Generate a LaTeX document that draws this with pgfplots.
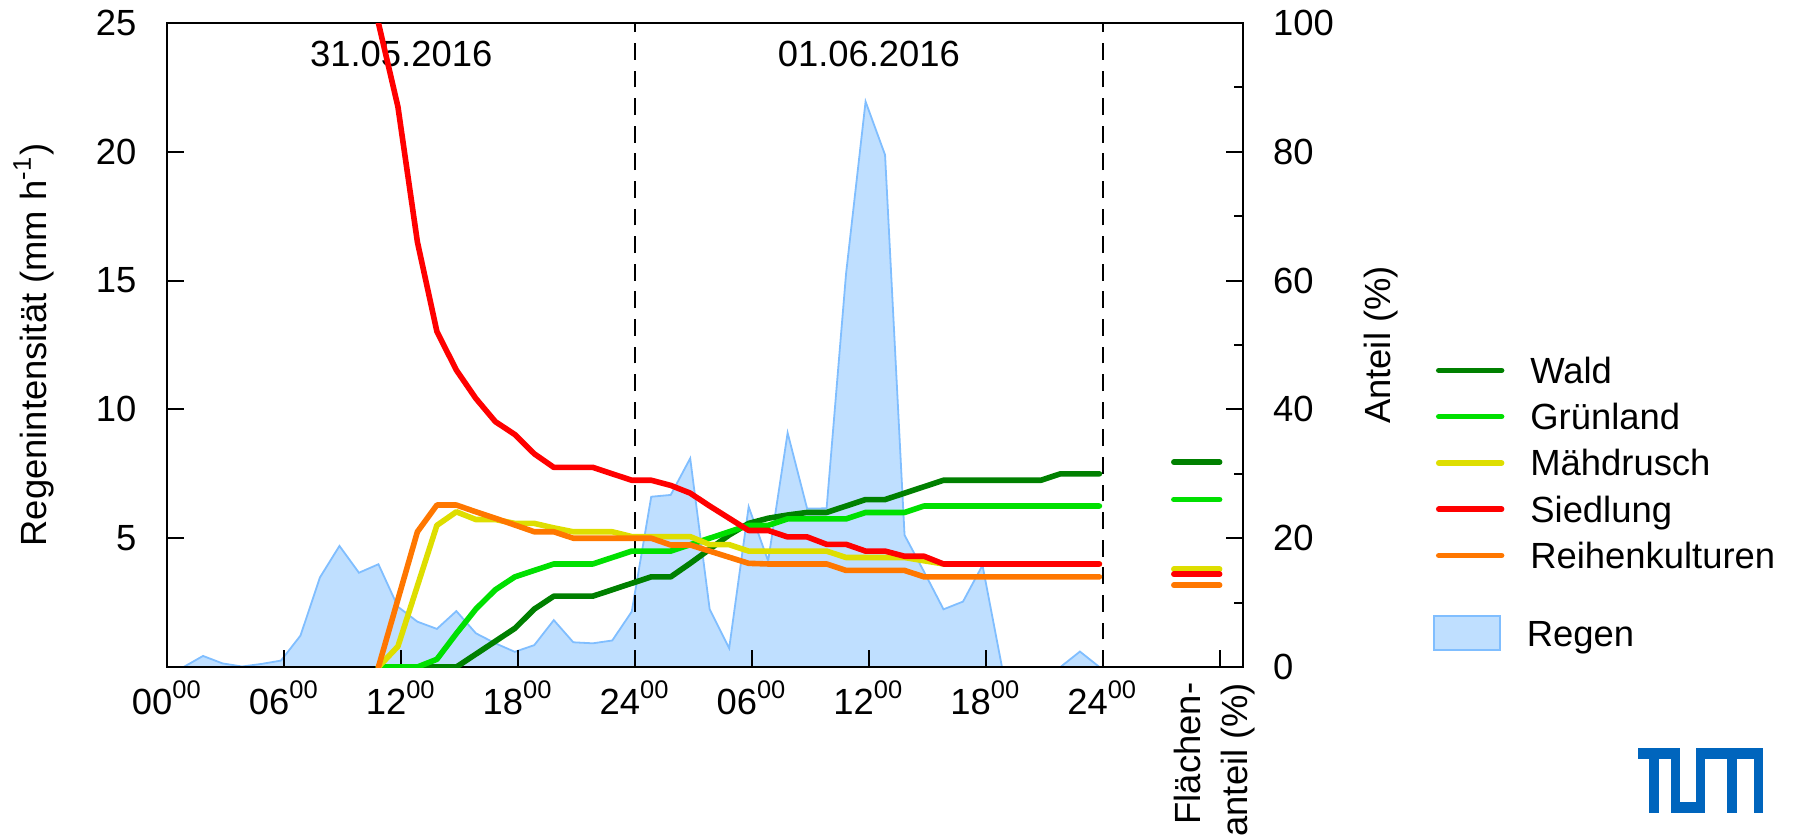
\documentclass[border=0pt]{standalone}
\usepackage{fontspec}
\setmainfont{Liberation Sans}
\usepackage{pgfplots}
\pgfplotsset{compat=1.18}
\definecolor{wald}{RGB}{0,128,0}
\definecolor{gruen}{RGB}{0,224,0}
\definecolor{maeh}{RGB}{222,222,0}
\definecolor{sied}{RGB}{255,0,0}
\definecolor{reihe}{RGB}{255,119,0}
\definecolor{rainfill}{RGB}{191,223,255}
\definecolor{rainedge}{RGB}{128,190,255}
\definecolor{tumblue}{RGB}{0,101,189}
\pgfplotsset{
  common/.style={
    width=268.9pt, height=161pt, scale only axis,
    xmin=0, xmax=55.2,
    clip mode=individual,
    tick align=inside,
    axis line style={line width=0.5pt},
    every tick/.style={line width=0.5pt, black},
    /pgf/number format/assume math mode=true,
  },
}
\begin{document}
\begin{tikzpicture}[font=\fontsize{9.1}{11.75}\selectfont]
\path[use as bounding box] (-41.85pt,-42.5pt) rectangle (406.65pt,166.75pt);
% ---------- left axis: rain ----------
\begin{axis}[common,
  axis on top,
  ymin=0, ymax=25,
  ytick={5,10,15,20,25},
  xtick={0,6,...,54},
  xticklabels={00\textsuperscript{00},06\textsuperscript{00},12\textsuperscript{00},18\textsuperscript{00},24\textsuperscript{00},06\textsuperscript{00},12\textsuperscript{00},18\textsuperscript{00},24\textsuperscript{00},{}},
  xtick pos=bottom, ytick pos=left,
  major tick length=4.2pt,
  yticklabel style={xshift=-4.2pt},
  every axis y label/.style={at={(axis description cs:-0.1245,0.5)}, rotate=90, anchor=center},
  ylabel={Regenintensität (mm h\textsuperscript{-1})},
  legend style={at={(1.177,0.0800)}, anchor=north west, draw=none, fill=none, inner sep=0pt, outer sep=0pt,
    nodes={inner sep=0pt, outer sep=0pt, text height=7.5pt, text depth=1pt}},
  legend cell align=left,
  /tikz/every odd column/.append style={column sep=6.5pt},
  legend image code/.code={\draw[#1] (0pt,-4.25pt) rectangle (16.4pt,4.25pt);},
]
\addplot[fill=rainfill, draw=rainedge, line width=0.45pt] table {
0.83 0
1.83 0.43
2.83 0.14
3.83 0.02
4.83 0.12
5.83 0.25
6.83 1.22
7.83 3.48
8.83 4.70
9.83 3.66
10.83 3.99
11.83 2.34
12.83 1.76
13.83 1.48
14.83 2.17
15.83 1.31
16.83 0.92
17.83 0.59
18.83 0.85
19.83 1.82
20.83 0.96
21.83 0.92
22.83 1.03
23.83 2.15
24.83 6.61
25.83 6.68
26.83 8.10
27.83 2.24
28.83 0.73
29.83 6.22
30.83 4.12
31.83 9.09
32.83 6.15
33.83 6.16
34.83 15.28
35.83 21.95
36.83 19.88
37.83 5.12
38.83 3.70
39.83 2.24
40.83 2.54
41.83 3.95
42.83 0
43.83 0
44.83 0
45.83 0
46.83 0.60
47.83 0
} \closedcycle;
\addlegendentry{Regen}
\addplot[black, line width=0.45pt, dash pattern=on 4.2pt off 2.7pt, forget plot] coordinates {(24,0) (24,25)};
\addplot[black, line width=0.45pt, dash pattern=on 4.2pt off 2.7pt, forget plot] coordinates {(48,0) (48,25)};
\node at (axis cs:12,23.8) {31.05.2016};
\node at (axis cs:36,23.8) {01.06.2016};
\end{axis}
% ---------- right axis: shares ----------
\begin{axis}[common,
  axis x line=none, axis y line*=right,
  ymin=0, ymax=100,
  ytick={0,20,...,100}, minor ytick={10,30,...,90},
  major tick length=4.25pt, minor tick length=2.15pt,
  yticklabel style={xshift=4pt},
  every axis y label/.style={at={(axis description cs:1.1283,0.5)}, rotate=90, anchor=center},
  ylabel={Anteil (\%)},
  legend style={at={(1.1794,0.4870)}, anchor=north west, draw=none, fill=none, inner sep=0pt, outer sep=0pt, row sep=3.075pt,
    nodes={inner sep=0pt, outer sep=0pt, text height=7.5pt, text depth=1pt}},
  legend cell align=left,
  /tikz/every odd column/.append style={column sep=6.5pt},
  legend image code/.code={\draw[#1, line cap=round] (0pt,0pt) -- (15.7pt,0pt);},
  every axis plot/.append style={line width=1.4pt, line cap=round, line join=round},
]
\addplot[wald] table {
10.83 0
11.83 0
12.83 0
13.83 0
14.83 0
15.83 2.0
16.83 4.0
17.83 6.0
18.83 9.0
19.83 11.0
20.83 11.0
21.83 11.0
22.83 12.0
23.83 13.0
24.83 14.0
25.83 14.0
26.83 16.1
27.83 18.3
28.83 20.5
29.83 22.3
30.83 23.1
31.83 23.6
32.83 24.0
33.83 24.0
34.83 25.0
35.83 26.0
36.83 26.0
37.83 27.0
38.83 28.0
39.83 29.0
40.83 29.0
41.83 29.0
42.83 29.0
43.83 29.0
44.83 29.0
45.83 30.0
46.83 30.0
47.83 30.0
};
\addlegendentry{Wald}
\addplot[gruen] table {
10.83 0
11.83 0
12.83 0
13.83 1.2
14.83 5.2
15.83 9.0
16.83 12.0
17.83 14.0
18.83 15.0
19.83 16.0
20.83 16.0
21.83 16.0
22.83 17.0
23.83 18.0
24.83 18.0
25.83 18.0
26.83 19.0
27.83 20.0
28.83 21.0
29.83 22.0
30.83 22.0
31.83 23.0
32.83 23.0
33.83 23.0
34.83 23.0
35.83 24.0
36.83 24.0
37.83 24.0
38.83 25.0
39.83 25.0
40.83 25.0
41.83 25.0
42.83 25.0
43.83 25.0
44.83 25.0
45.83 25.0
46.83 25.0
47.83 25.0
};
\addlegendentry{Grünland}
\addplot[maeh] table {
10.83 0
11.83 3.2
12.83 12.6
13.83 22.0
14.83 24.1
15.83 22.9
16.83 22.9
17.83 22.3
18.83 22.3
19.83 21.6
20.83 21.0
21.83 21.0
22.83 21.0
23.83 20.25
24.83 20.25
25.83 20.25
26.83 20.25
27.83 19.0
28.83 19.0
29.83 18.0
30.83 18.0
31.83 18.0
32.83 18.0
33.83 18.0
34.83 17.0
35.83 17.0
36.83 17.0
37.83 17.0
38.83 16.5
39.83 16.0
40.83 16.0
41.83 16.0
42.83 16.0
43.83 16.0
44.83 16.0
45.83 16.0
46.83 16.0
47.83 16.0
};
\addlegendentry{Mähdrusch}
\addplot[sied] table {
10.83 100
11.83 87
12.83 66
13.83 52.1
14.83 46.1
15.83 41.7
16.83 38.1
17.83 36.1
18.83 33.1
19.83 31.0
20.83 31.0
21.83 31.0
22.83 30.0
23.83 29.0
24.83 29.0
25.83 28.2
26.83 27.0
27.83 25.0
28.83 23.1
29.83 21.2
30.83 21.2
31.83 20.2
32.83 20.2
33.83 19.05
34.83 19.05
35.83 18.0
36.83 18.0
37.83 17.2
38.83 17.2
39.83 16.0
40.83 16.0
41.83 16.0
42.83 16.0
43.83 16.0
44.83 16.0
45.83 16.0
46.83 16.0
47.83 16.0
};
\addlegendentry{Siedlung}
\addplot[reihe] table {
10.83 0
11.83 10.5
12.83 21.0
13.83 25.15
14.83 25.15
15.83 24.1
16.83 23.1
17.83 22.05
18.83 21.0
19.83 21.0
20.83 20.0
21.83 20.0
22.83 20.0
23.83 20.0
24.83 20.0
25.83 18.95
26.83 18.95
27.83 18.0
28.83 17.05
29.83 16.1
30.83 16.0
31.83 16.0
32.83 16.0
33.83 16.0
34.83 15.0
35.83 15.0
36.83 15.0
37.83 15.0
38.83 14.0
39.83 14.0
40.83 14.0
41.83 14.0
42.83 14.0
43.83 14.0
44.83 14.0
45.83 14.0
46.83 14.0
47.83 14.0
};
\addlegendentry{Reihenkulturen}
% Flaechenanteil
\addplot[wald, forget plot] coordinates {(51.65,31.8) (54.0,31.8)};
\addplot[gruen, forget plot] coordinates {(51.65,26.0) (54.0,26.0)};
\addplot[maeh, forget plot] coordinates {(51.65,15.2) (54.0,15.2)};
\addplot[sied, forget plot] coordinates {(51.65,14.4) (54.0,14.4)};
\addplot[reihe, forget plot] coordinates {(51.65,12.7) (54.0,12.7)};
\addplot[black, line width=0.5pt, line cap=butt, forget plot] coordinates {(54,0) (54,2.64)};
\node[rotate=90, anchor=east, align=right, inner sep=0pt] at (axis cs:53.72,-2.33) {Flächen-\\anteil (\%)};
\end{axis}
% TUM logo
\fill[tumblue] (367.65pt,-20.25pt) rectangle (378.15pt,-23.0pt);
\fill[tumblue] (370.4pt,-20.25pt) rectangle (372.9pt,-36.5pt);
\fill[tumblue] (375.9pt,-20.25pt) rectangle (378.15pt,-36.5pt);
\fill[tumblue] (375.9pt,-33.75pt) rectangle (384.4pt,-36.5pt);
\fill[tumblue] (382.15pt,-20.25pt) rectangle (384.4pt,-36.5pt);
\fill[tumblue] (382.15pt,-20.25pt) rectangle (398.9pt,-23.0pt);
\fill[tumblue] (389.9pt,-20.25pt) rectangle (392.4pt,-36.5pt);
\fill[tumblue] (396.65pt,-20.25pt) rectangle (398.9pt,-36.5pt);
\end{tikzpicture}
\end{document}
